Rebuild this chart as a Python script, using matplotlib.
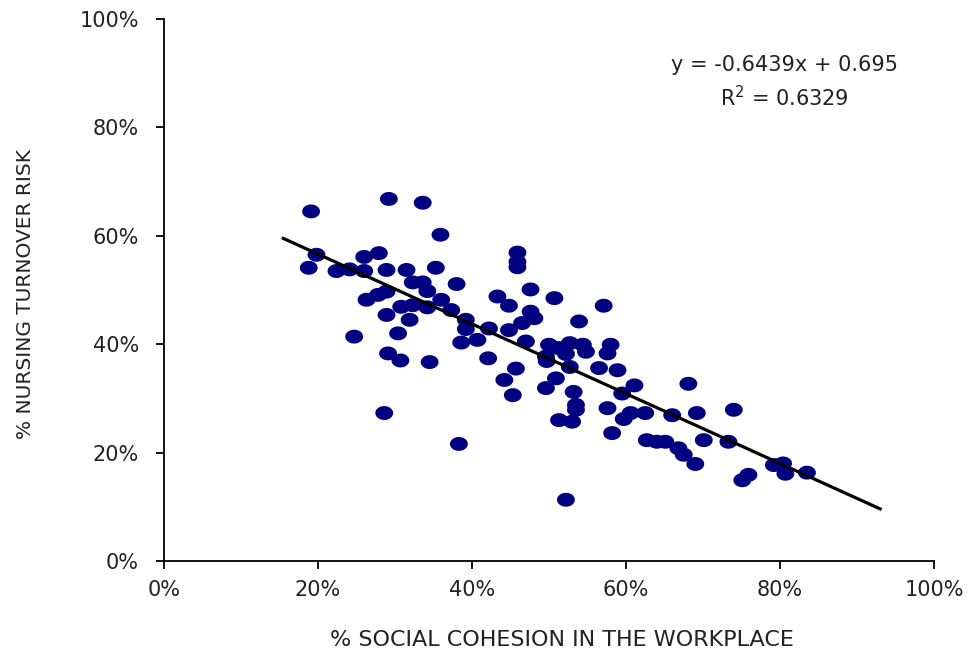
import matplotlib
matplotlib.use("Agg")
import matplotlib.pyplot as plt
import numpy as np
from matplotlib.path import Path
from matplotlib.ticker import FuncFormatter

# --- data (fractions) ---
social_cohesion = [
    0.191, 0.292, 0.336, 0.359, 0.198, 0.188, 0.224, 0.241, 0.260, 0.260,
    0.279, 0.289, 0.315, 0.353, 0.380, 0.323, 0.336, 0.342, 0.289, 0.278,
    0.263, 0.308, 0.323, 0.342, 0.360, 0.373, 0.289, 0.319, 0.247, 0.304,
    0.291, 0.307, 0.345, 0.286, 0.383, 0.386, 0.407, 0.392, 0.392,
    0.459, 0.459, 0.459, 0.476, 0.433, 0.448, 0.507, 0.571, 0.476, 0.481,
    0.465, 0.539, 0.422, 0.448, 0.470, 0.500, 0.512, 0.527, 0.544, 0.548,
    0.496, 0.522, 0.580, 0.576, 0.421, 0.497, 0.527, 0.565, 0.589, 0.457,
    0.442, 0.509, 0.453, 0.496, 0.532, 0.611, 0.595, 0.535, 0.535, 0.576,
    0.606, 0.597, 0.513, 0.530, 0.582, 0.522, 0.625,
    0.681, 0.660, 0.692, 0.740, 0.627, 0.640, 0.651, 0.668, 0.675, 0.690,
    0.701, 0.733, 0.759, 0.751, 0.792, 0.804, 0.807, 0.835,
]
turnover_risk = [
    0.645, 0.668, 0.661, 0.602, 0.565, 0.541, 0.535, 0.538, 0.535, 0.561,
    0.568, 0.537, 0.537, 0.541, 0.511, 0.514, 0.514, 0.498, 0.497, 0.491,
    0.482, 0.469, 0.472, 0.468, 0.482, 0.463, 0.454, 0.445, 0.414, 0.420,
    0.383, 0.370, 0.367, 0.273, 0.216, 0.403, 0.408, 0.445, 0.428,
    0.569, 0.552, 0.542, 0.501, 0.488, 0.471, 0.485, 0.471, 0.460, 0.448,
    0.439, 0.442, 0.429, 0.426, 0.405, 0.399, 0.393, 0.402, 0.399, 0.386,
    0.377, 0.382, 0.399, 0.383, 0.374, 0.369, 0.358, 0.356, 0.352, 0.355,
    0.334, 0.337, 0.306, 0.319, 0.312, 0.324, 0.309, 0.288, 0.279, 0.282,
    0.273, 0.262, 0.260, 0.257, 0.236, 0.113, 0.273,
    0.327, 0.269, 0.273, 0.279, 0.223, 0.220, 0.220, 0.208, 0.196, 0.179,
    0.223, 0.220, 0.159, 0.149, 0.177, 0.180, 0.161, 0.163,
]
trend_slope = -0.6439
trend_intercept = 0.695
trend_x_range = [0.155, 0.93]
x_ticks = [0, 0.2, 0.4, 0.6, 0.8, 1.0]
y_ticks = [0, 0.2, 0.4, 0.6, 0.8, 1.0]
x_label = "% SOCIAL COHESION IN THE WORKPLACE"
y_label = "% NURSING TURNOVER RISK"
eq_text = "y = -0.6439x + 0.695\nR$^2$ = 0.6329"

plt.rcParams['font.family'] = ['DejaVu Sans']

fig = plt.figure(figsize=(9.74, 6.56), dpi=100)
ax = fig.add_axes([164/974, 1-561/656, (934-164)/974, (561-19)/656])

# elliptical marker (wider than tall)
t = np.linspace(0, 2*np.pi, 60)
ell = Path(np.column_stack([np.cos(t), 0.78*np.sin(t)]), closed=True)

ax.scatter(social_cohesion, turnover_risk, marker=ell, s=165,
           color='#000080', edgecolors='none', zorder=2)

tx = np.array(trend_x_range)
ax.plot(tx, trend_slope*tx + trend_intercept, color='black', lw=2.3, zorder=3)

ax.set_xlim(0, 1)
ax.set_ylim(0, 1)
ax.set_xticks(x_ticks)
ax.set_yticks(y_ticks)
pct = FuncFormatter(lambda v, p: f"{v*100:.0f}%")
ax.xaxis.set_major_formatter(pct)
ax.yaxis.set_major_formatter(pct)
for s in ['top', 'right']:
    ax.spines[s].set_visible(False)
for s in ['left', 'bottom']:
    ax.spines[s].set_linewidth(1.3)
    ax.spines[s].set_color('black')
ax.tick_params(axis='both', direction='out', length=6, width=1.3,
               labelsize=15, colors='black', labelcolor='#222222')
ax.tick_params(axis='x', pad=8)
ax.tick_params(axis='y', pad=12)

ax.set_xlabel(x_label, fontsize=16, color='#222222')
ax.xaxis.set_label_coords(0.517, -0.128)
ax.set_ylabel(y_label, fontsize=14.5, color='#222222')
ax.yaxis.set_label_coords(-0.168, 0.493)

ax.text(0.806, 0.883, eq_text, transform=ax.transAxes, ha='center', va='center',
        fontsize=15, color='#222222', linespacing=1.45)

fig.savefig("out.png", dpi=100)
